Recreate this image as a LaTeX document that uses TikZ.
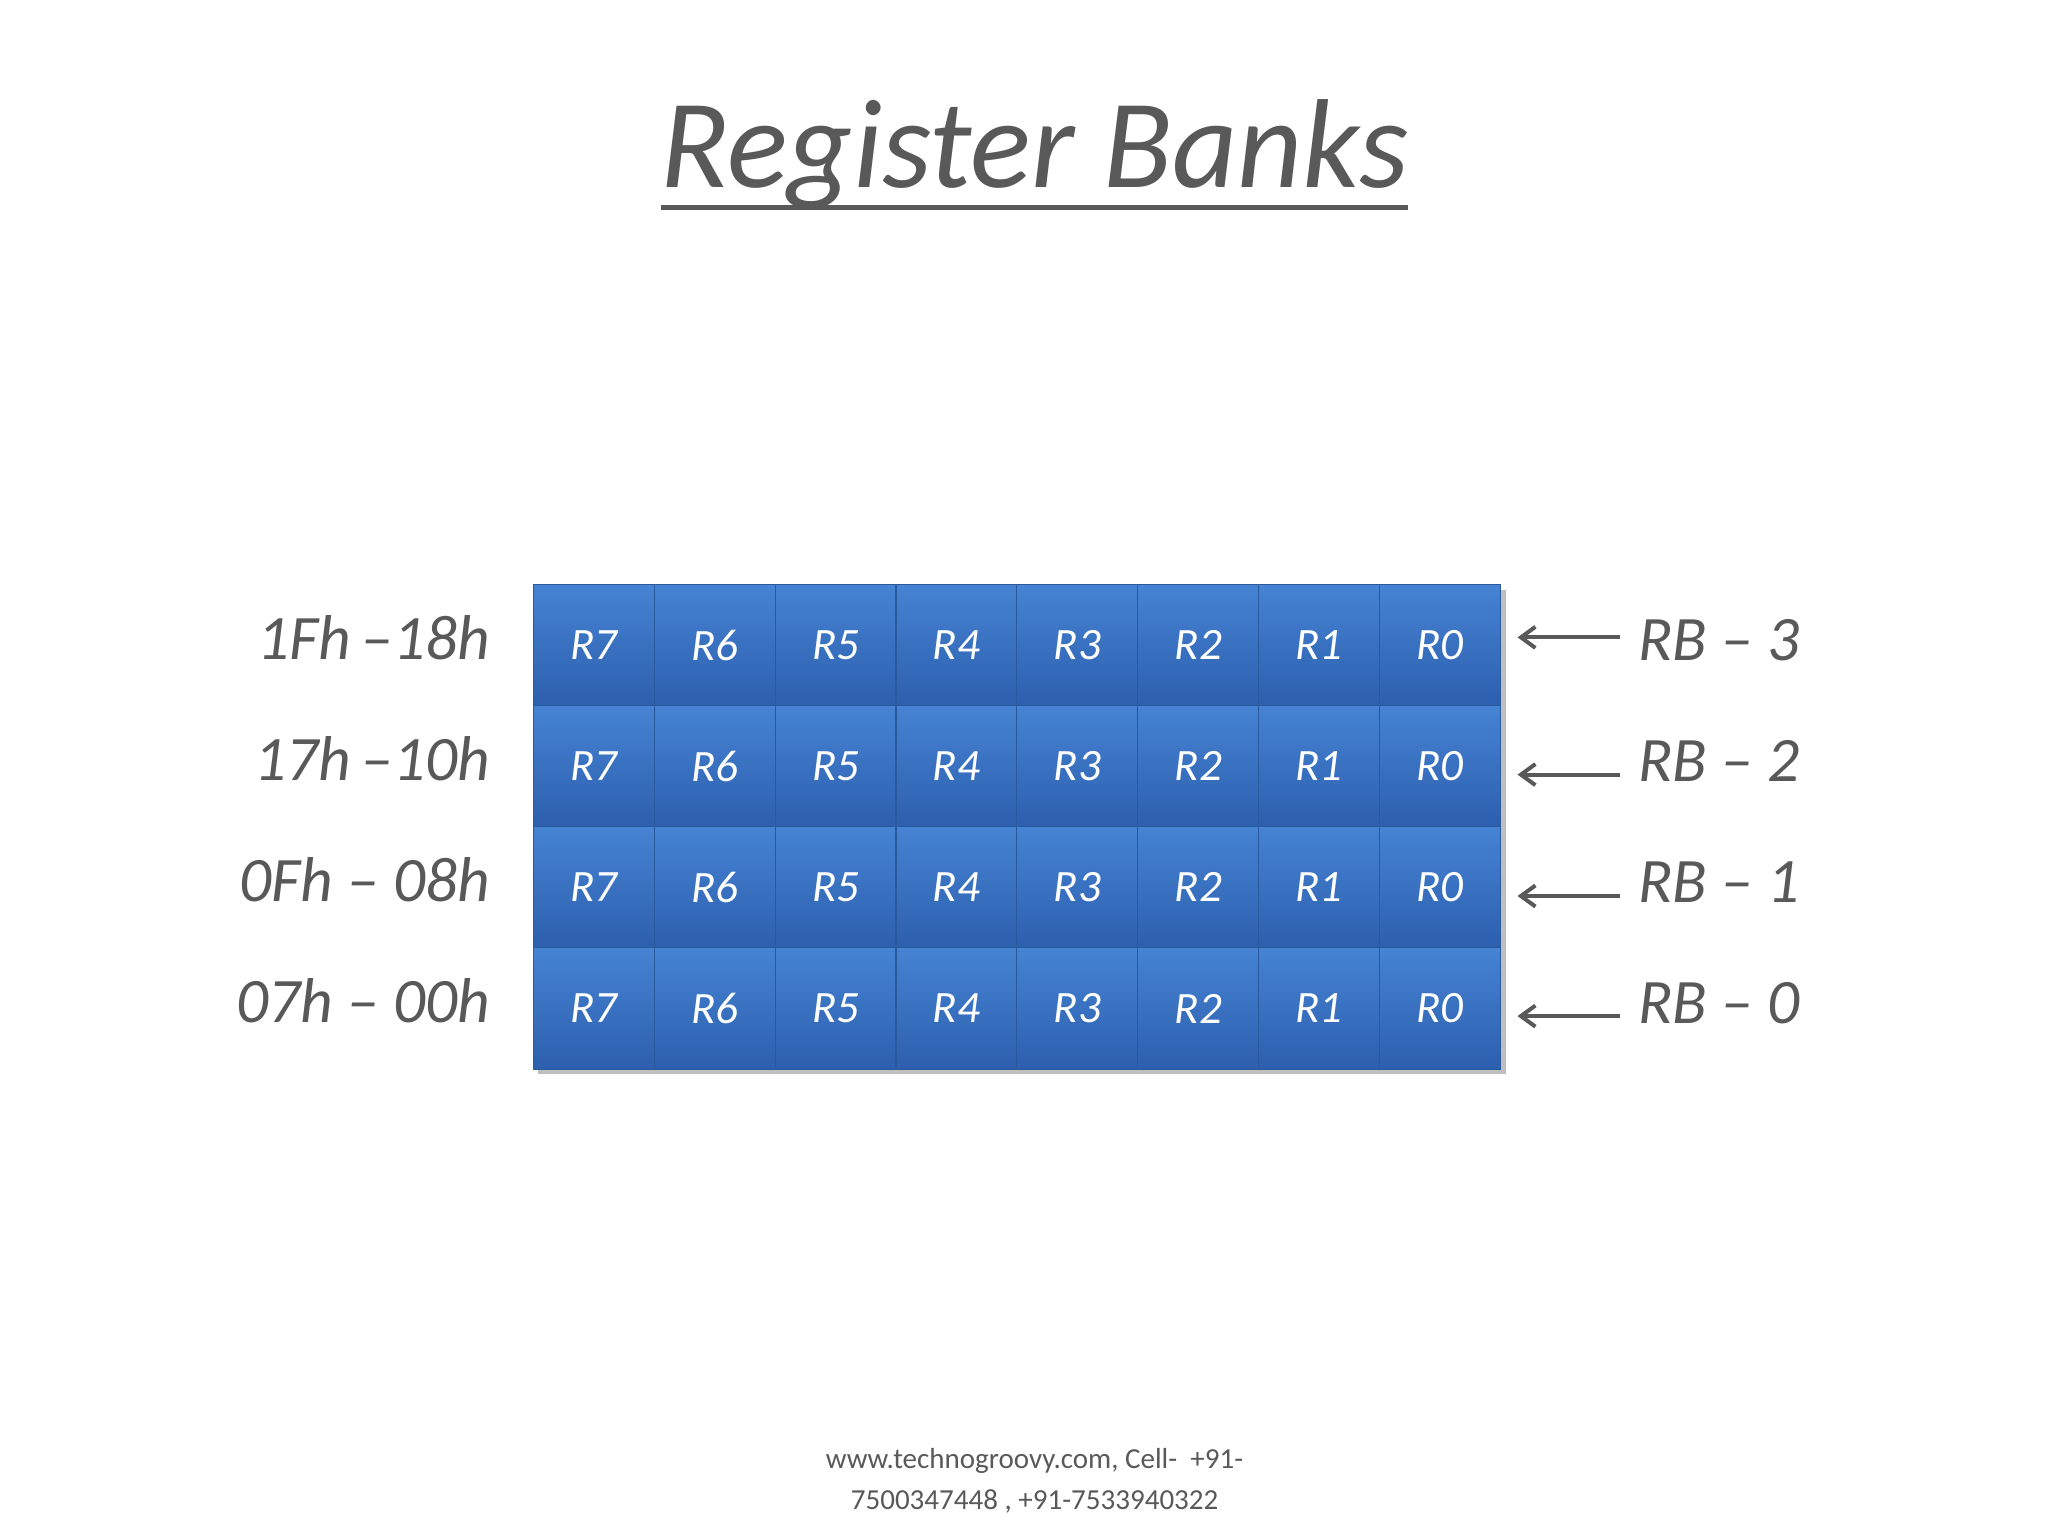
\documentclass[tikz,border=0pt]{standalone}
\usepackage{fontspec}
\setmainfont{Carlito}
\usetikzlibrary{arrows.meta}
\definecolor{txt}{HTML}{595959}
\definecolor{ctop}{HTML}{4683D3}
\definecolor{cbot}{HTML}{2C5FAE}
\definecolor{cedge}{HTML}{2A5A9E}
\tikzset{
  cell/.style={draw=cedge, line width=0.8pt, top color=ctop, bottom color=cbot, minimum width=91.6pt, minimum height=91.75pt, inner sep=0pt, text=white, font=\fontsize{34}{40}\selectfont\itshape},
  addr/.style={anchor=east, text=txt, font=\fontsize{48}{56}\selectfont\itshape},
  rb/.style={anchor=west, text=txt, font=\fontsize{48}{56}\selectfont\itshape},
  ptr/.style={draw=txt, line width=3pt, -{Straight Barb[length=11pt,width=16pt]}}
}
\begin{document}
\begin{tikzpicture}[x=1pt,y=-1pt]
\useasboundingbox[fill=white] (0,0) rectangle (1552,1164);
\node[text=txt, font=\fontsize{96}{110}\selectfont\itshape] (title) at (784,117) {Register Banks};
\draw[txt, line width=4pt] (501,157) -- (1067,157);
\fill[black!25] (408,447) rectangle (1141,814);
\foreach \r/\lab/\rbl/\ay [count=\i from 0] in {3/1Fh\,–18h/RB – 3/483, 2/17h\,–10h/RB – 2/587, 1/0Fh – 08h/RB – 1/679, 0/07h – 00h/RB – 0/770}{
  \pgfmathsetmacro{\yc}{489+91.75*\i}
  \foreach \c in {0,...,7}{
    \pgfmathtruncatemacro{\rn}{7-\c}
    \node[cell] (c\r\c) at ({450+91.6*\c},\yc) {R\rn};
  }
  \node[addr] (a\r) at (375,\yc-6) {\lab};
  \coordinate (s\r) at (1228,\ay);
  \coordinate (e\r) at (1150,\ay);
  \draw[ptr] (s\r) -- (e\r);
  \node[rb] (b\r) at (1238,\yc-4) {\rbl};
}
\node[text=txt, align=center, font=\fontsize{22}{31}\selectfont] (foot) at (784,1122) {www.technogroovy.com, Cell-\ \ +91-\\7500347448 , +91-7533940322};
\end{tikzpicture}
\end{document}
